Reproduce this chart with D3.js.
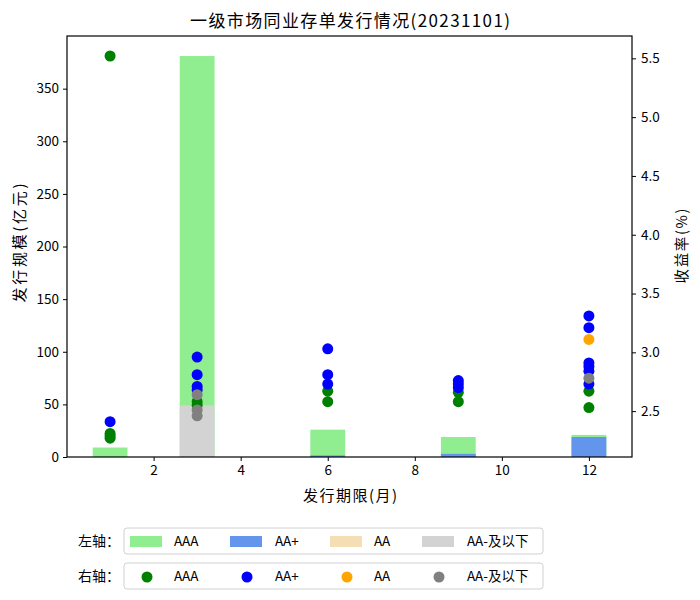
<!DOCTYPE html>
<html><head><meta charset="utf-8">
<script src="https://cdn.jsdelivr.net/npm/d3@7"></script>
<style>body{margin:0;background:#fff;} svg{display:block;} text{font-family:"Noto Sans CJK SC","DejaVu Sans",sans-serif;}</style>
</head><body>
<svg id="c" width="700" height="600"></svg>
<script>
const title = "一级市场同业存单发行情况(20231101)";
const ratings = ["AAA","AA+","AA","AA-及以下"];
const tenors = [1,3,6,9,12];
const barAAA = [9, 381, 26, 19, 21];
const barAAplus = [0, 0, 1.5, 3, 19];
const barAA = [0, 0, 0, 0, 0];
const barAAminus = [0, 49, 0, 0, 0];
const ptAAA = [[1,5.52],[1,2.31],[1,2.29],[1,2.27],[3,2.58],[3,2.55],[6,2.67],[6,2.58],[9,2.66],[9,2.58],[12,2.67],[12,2.53]];
const ptAAplus = [[1,2.41],[3,2.96],[3,2.81],[3,2.71],[3,2.68],[6,3.03],[6,2.81],[6,2.73],[9,2.76],[9,2.73],[9,2.70],[12,3.31],[12,3.21],[12,2.91],[12,2.88],[12,2.84],[12,2.73]];
const ptAA = [[12,3.11]];
const ptAAminus = [[3,2.64],[3,2.51],[3,2.46],[12,2.78]];
const xTicks = [2,4,6,8,10,12];
const yLeftTicks = [0,50,100,150,200,250,300,350];
const yRightTicks = [2.5,3.0,3.5,4.0,4.5,5.0,5.5];

const barColors = ["#90EE90","#6495ED","#F5DEB3","#D3D3D3"];
const ptColors = ["#008000","#0000FF","#FFA500","#808080"];
const barSeries = [barAAA, barAAplus, barAA, barAAminus];
const ptSeries = [ptAAA, ptAAplus, ptAA, ptAAminus];

const L=67,R=632,T=36,B=457;
const svg = d3.select("#c");
const x = d3.scaleLinear().domain([0.01,12.99]).range([L,R]);
const yL = d3.scaleLinear().domain([0,400.05]).range([B,T]);
const yR = d3.scaleLinear().domain([2.11,5.69]).range([B,T]);
const bw = 0.8;

barSeries.forEach((s,i)=>{
  svg.append("g").selectAll("rect").data(tenors.map((t,j)=>({t,v:s[j]})).filter(d=>d.v>0))
    .join("rect")
    .attr("x",d=>x(d.t-bw/2)).attr("width",d=>x(d.t+bw/2)-x(d.t-bw/2))
    .attr("y",d=>yL(d.v)).attr("height",d=>yL(0)-yL(d.v))
    .attr("fill",barColors[i]);
});
ptSeries.forEach((s,i)=>{
  svg.append("g").selectAll("circle").data(s).join("circle")
    .attr("cx",d=>x(d[0])).attr("cy",d=>yR(d[1])).attr("r",5.5)
    .attr("fill",ptColors[i]);
});
const ax = svg.append("g").attr("transform",`translate(0,${B})`)
  .call(d3.axisBottom(x).tickValues(xTicks).tickSize(4).tickPadding(4).tickFormat(d3.format("d")));
const ayl = svg.append("g").attr("transform",`translate(${L},0)`)
  .call(d3.axisLeft(yL).tickValues(yLeftTicks).tickSize(4).tickPadding(4).tickFormat(d3.format("d")));
const ayr = svg.append("g").attr("transform",`translate(${R},0)`)
  .call(d3.axisRight(yR).tickValues(yRightTicks).tickSize(4).tickPadding(5).tickFormat(d3.format(".1f")));
[ax,ayl,ayr].forEach(g=>{
  g.select(".domain").remove();
  g.selectAll("text").attr("font-size",13.5).attr("fill","#000");
  g.selectAll("line").attr("stroke","#000");
});
svg.append("rect").attr("x",L).attr("y",T).attr("width",R-L).attr("height",B-T)
  .attr("fill","none").attr("stroke","#000").attr("stroke-width",1.2);

svg.append("text").attr("x",350).attr("y",27).attr("text-anchor","middle").attr("font-size",17)
  .attr("textLength",320).attr("lengthAdjust","spacing").text(title);
svg.append("text").attr("x",350).attr("y",501).attr("text-anchor","middle").attr("font-size",15)
  .attr("textLength",94).attr("lengthAdjust","spacing").text("发行期限(月)");
svg.append("text").attr("transform",`translate(25,243) rotate(-90)`).attr("text-anchor","middle").attr("font-size",15)
  .attr("textLength",119).attr("lengthAdjust","spacing").text("发行规模(亿元)");
svg.append("text").attr("transform",`translate(687,246) rotate(-90)`).attr("text-anchor","middle").attr("font-size",14.5)
  .attr("textLength",75).attr("lengthAdjust","spacing").text("收益率(%)");

const colX = [130,230,330,422];
const textX = [174,275,374,467];
function legend(yc, label, kind){
  svg.append("text").attr("x",120).attr("y",yc).attr("dy","0.35em").attr("text-anchor","end").attr("font-size",14).text(label);
  svg.append("rect").attr("x",124).attr("y",yc-13).attr("width",419).attr("height",26).attr("rx",3)
    .attr("fill","#fff").attr("stroke","#d0d0d0");
  ratings.forEach((r,i)=>{
    if(kind==="bar"){
      svg.append("rect").attr("x",colX[i]).attr("y",yc-5).attr("width",32).attr("height",11).attr("fill",barColors[i]);
    } else {
      svg.append("circle").attr("cx",colX[i]+17).attr("cy",yc+1).attr("r",5.5).attr("fill",ptColors[i]);
    }
    svg.append("text").attr("x",textX[i]).attr("y",yc).attr("dy","0.35em").attr("font-size",13.5).text(r);
  });
}
legend(541,"左轴：","bar");
legend(576,"右轴：","pt");
</script>
</body></html>
